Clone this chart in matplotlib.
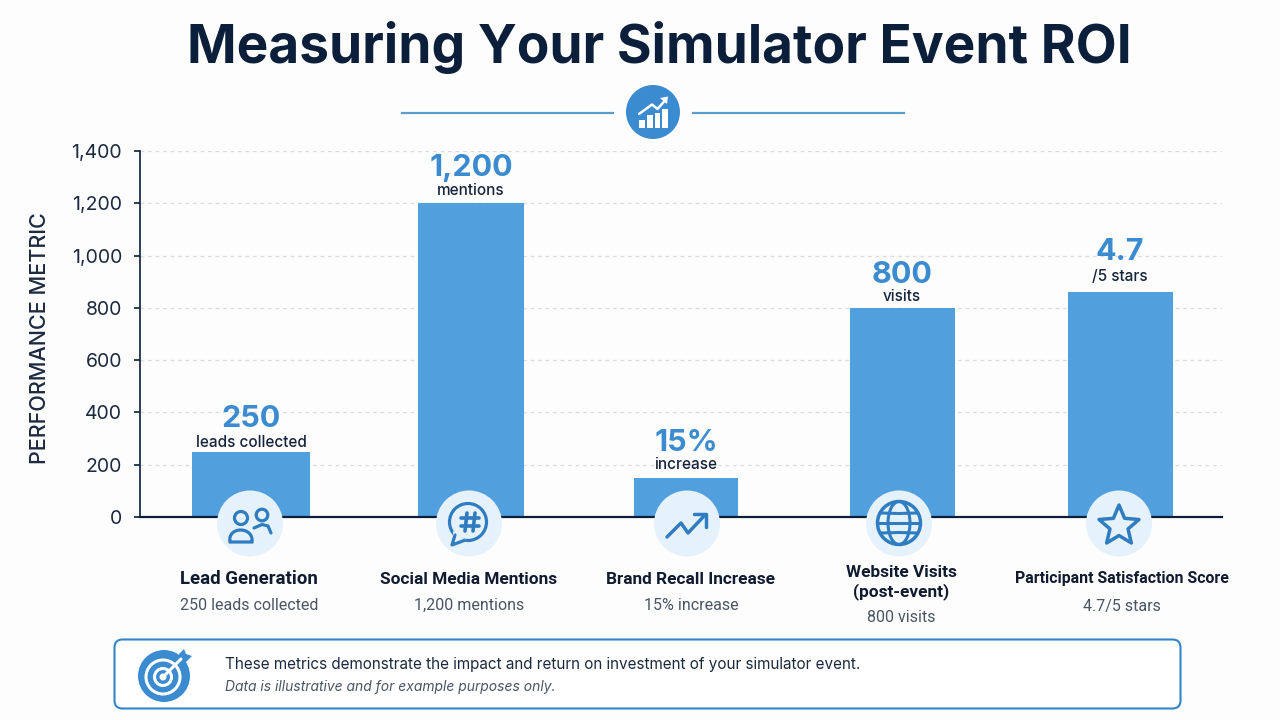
import numpy as np
import matplotlib
matplotlib.use('Agg')
import matplotlib.pyplot as plt
from matplotlib.patches import Circle, Ellipse, FancyBboxPatch, PathPatch, Polygon
from matplotlib.path import Path

CATEGORIES = ['Lead Generation', 'Social Media Mentions', 'Brand Recall Increase',
              'Website Visits\n(post-event)', 'Participant Satisfaction Score']
DETAILS = ['250 leads collected', '1,200 mentions', '15% increase', '800 visits', '4.7/5 stars']
VALUE_LABELS = ['250', '1,200', '15%', '800', '4.7']
UNIT_LABELS = ['leads collected', 'mentions', 'increase', 'visits', '/5 stars']
# bar heights on the shared axis; the % and star bars are not on the same unit
VALUES = [250, 1200, 150, 800, 860]
Y_TICKS = [0, 200, 400, 600, 800, 1000, 1200, 1400]

BAR_X = [251, 471, 686, 902, 1120]
BAR_W = [118, 106, 104, 105, 105]
ICON_X = [250, 469, 687, 899, 1119]
NAME_X = [249, 469, 691, 901, 1122]
NAME_Y = [579, 579, 579, 582.5, 579]
NAME_SIZE = [13.4, 12.4, 12.4, 12.4, 11.4]
DETAIL_Y = [605, 605, 605, 617, 607]
UNIT_GAP = [9, 13, 13, 11, 16]
VALUE_GAP = [33, 35, 35, 33, 40]

BG = '#FDFDFE'
NAVY = '#0B1F3A'
BAR = '#529FDE'
BLUE = '#3B8BD0'
ICON = '#2F7CC1'
PALE = '#E6F2FB'
W, H = 1280, 720

plt.rcParams['font.family'] = ['Inter', 'Roboto', 'DejaVu Sans']

fig = plt.figure(figsize=(12.8, 7.2), dpi=100, facecolor=BG)

# main chart, x axis runs in pixels so bars can have their own widths
ax = fig.add_axes([140 / W, 1 - 517 / H, (1222 - 140) / W, (517 - 151) / H])
ax.set_facecolor('none')
ax.set_xlim(140, 1222)
ax.set_ylim(0, 1400)
ax.bar(BAR_X, VALUES, width=BAR_W, color=BAR, zorder=2)
ax.set_yticks(Y_TICKS)
ax.set_yticklabels([f'{t:,}' for t in Y_TICKS], fontsize=14, color='#1C2A3F')
ax.set_xticks([])
ax.tick_params(axis='y', length=4.5, width=1.2, color=NAVY, pad=8.5)
ax.yaxis.grid(True, color='#D9DDE2', linestyle=(0, (3, 3)), linewidth=0.9, zorder=0)
ax.set_axisbelow(True)
for side in ['top', 'right']:
    ax.spines[side].set_visible(False)
ax.spines['left'].set_color(NAVY)
ax.spines['left'].set_linewidth(1.2)
ax.spines['bottom'].set_color(NAVY)
ax.spines['bottom'].set_linewidth(1.6)

for x, v, lab, unit, g1, g2 in zip(BAR_X, VALUES, VALUE_LABELS, UNIT_LABELS, UNIT_GAP, VALUE_GAP):
    ax.annotate(unit, (x, v), xytext=(0, g1 * 0.72), textcoords='offset points',
                ha='center', va='center', fontsize=11, fontweight='medium', color='#15243A',
                annotation_clip=False)
    ax.annotate(lab, (x, v), xytext=(0, g2 * 0.72), textcoords='offset points',
                ha='center', va='center', fontsize=22, fontweight='bold', color=BLUE,
                annotation_clip=False)

# overlay in pixel coordinates for header, icons and captions
ov = fig.add_axes([0, 0, 1, 1])
ov.set_xlim(0, W)
ov.set_ylim(H, 0)
ov.axis('off')
ov.patch.set_alpha(0)


def stroke(xs, ys, color=ICON, lw=2.3):
    ov.plot(xs, ys, color=color, lw=lw, solid_capstyle='round', solid_joinstyle='round')


def ring(x, y, r, color=ICON, lw=2.3, fill='none'):
    ov.add_patch(Circle((x, y), r, facecolor=fill, edgecolor=color, lw=lw))


def people_icon(cx):
    ring(cx - 9, 518, 6.5)
    body = Path([(cx - 20, 542), (cx - 23, 526), (cx + 4, 526), (cx + 2, 542), (cx - 20, 542)],
                [Path.MOVETO, Path.CURVE4, Path.CURVE4, Path.CURVE4, Path.CLOSEPOLY])
    ov.add_patch(PathPatch(body, facecolor='none', edgecolor=ICON, lw=2.3))
    ring(cx + 12, 515, 5.8)
    stroke([cx + 4, cx + 12, cx + 18, cx + 21], [528, 524.5, 526, 533])


def hash_icon(cx):
    cy = 522
    ring(cx - 1, cy, 18.5)
    # gap in the ring where the speech tail joins
    ov.add_patch(Polygon([(cx - 16, cy + 9), (cx - 16, cy + 23), (cx - 3, cy + 18)],
                         facecolor=PALE, edgecolor='none'))
    stroke([cx - 14, cx - 17, cx - 5], [cy + 13, cy + 23, cy + 18.5])
    for dx in [-3, 5]:
        stroke([cx + dx + 1, cx + dx - 1], [cy - 9, cy + 9], lw=2.6)
    for dy in [-4, 4]:
        stroke([cx - 8, cx + 10], [cy + dy, cy + dy], lw=2.6)


def trend_icon(cx):
    stroke(np.array([-20, -6, 1, 18]) + cx, [537, 523, 533, 515], lw=2.5)
    stroke(np.array([7, 19, 19]) + cx, [514, 514, 527], lw=2.5)


def globe_icon(cx):
    cy = 523
    ring(cx, cy, 21.5, lw=2.5)
    ov.add_patch(Ellipse((cx, cy), 22, 43, facecolor='none', edgecolor=ICON, lw=2.2))
    stroke([cx - 21, cx + 21], [cy, cy], lw=2.2)
    for dy, half in [(-10, 18), (10, 18)]:
        stroke([cx - half, cx, cx + half], [cy + dy, cy + dy * 0.95, cy + dy], lw=2.2)


def star_icon(cx):
    cy = 526
    angles = -np.pi / 2 + np.arange(10) * np.pi / 5
    radii = np.where(np.arange(10) % 2 == 0, 21, 9.5)
    pts = np.column_stack([cx + radii * np.cos(angles), cy + radii * np.sin(angles)])
    ov.add_patch(Polygon(pts, closed=True, facecolor='none', edgecolor=ICON, lw=2.5, joinstyle='round'))


def header_icon(cx, cy):
    ov.add_patch(Circle((cx, cy), 27, facecolor=BLUE, edgecolor='none'))
    for x0, x1, top in [(639, 645, 120), (647, 653, 115), (655, 660, 113), (662, 668, 109)]:
        ov.add_patch(Polygon([(x0, 128), (x1, 128), (x1, top), (x0, top)], facecolor='white', edgecolor='none'))
    stroke([639, 652, 657.5, 665], [114, 104.5, 109, 100.5], color='white', lw=1.8)
    ov.add_patch(Polygon([(660, 98), (668, 96.5), (667, 104)], facecolor='white', edgecolor='none'))


def target_icon(cx, cy):
    ov.add_patch(Circle((cx, cy), 26, facecolor=BLUE, edgecolor='none'))
    ring(cx - 1, cy + 1, 17, color='white', lw=2.2)
    ring(cx - 1, cy + 1, 8.5, color='white', lw=2.2)
    ov.add_patch(Circle((cx - 1, cy + 1), 3.5, facecolor='white', edgecolor='none'))
    stroke([cx - 1, cx + 17], [cy + 1, cy - 17], color='white', lw=2.2)
    ov.add_patch(Polygon([(cx + 15, cy - 22), (cx + 20, cy - 27), (cx + 22, cy - 22),
                          (cx + 28, cy - 20), (cx + 22, cy - 14), (cx + 16, cy - 16)],
                         facecolor=BLUE, edgecolor='none'))


# header
ov.text(659, 47, 'Measuring Your Simulator Event ROI', ha='center', va='center',
        fontsize=38.3, fontweight='bold', color=NAVY)
ov.plot([402, 613], [113, 113], color='#5C9CCB', lw=1.6)
ov.plot([693, 904], [113, 113], color='#5C9CCB', lw=1.6)
header_icon(653, 112)

ov.text(40, 338, 'PERFORMANCE METRIC', rotation=90, ha='center', va='center',
        fontsize=15.5, fontweight='medium', color='#1C2A3F')

# icon badges sitting on the baseline
for x in ICON_X:
    ov.add_patch(Circle((x, 523.5), 33, facecolor=PALE, edgecolor='none'))
for draw, x in zip([people_icon, hash_icon, trend_icon, globe_icon, star_icon], ICON_X):
    draw(x)

# category captions
for name, detail, x, ny, dy, size in zip(CATEGORIES, DETAILS, NAME_X, NAME_Y, DETAIL_Y, NAME_SIZE):
    ov.text(x, ny, name, ha='center', va='center', fontsize=size, fontweight='bold',
            family='Roboto', color='#101B30', linespacing=1.2)
    ov.text(x, dy, detail, ha='center', va='center', fontsize=11.5, color='#4A5563',
            family='Roboto')

# footer note
ov.add_patch(FancyBboxPatch((114.5, 639.5), 1066, 69, boxstyle='round,pad=0,rounding_size=8',
                            facecolor='white', edgecolor='#3384C8', lw=1.5))
target_icon(164, 676)
ov.text(225, 664, 'These metrics demonstrate the impact and return on investment of your simulator event.',
        ha='left', va='center', fontsize=11, color='#1C2A3F')
ov.text(225, 687, 'Data is illustrative and for example purposes only.',
        ha='left', va='center', fontsize=10, style='italic', color='#4A5563')

fig.savefig('out.png', dpi=100, facecolor=BG)
